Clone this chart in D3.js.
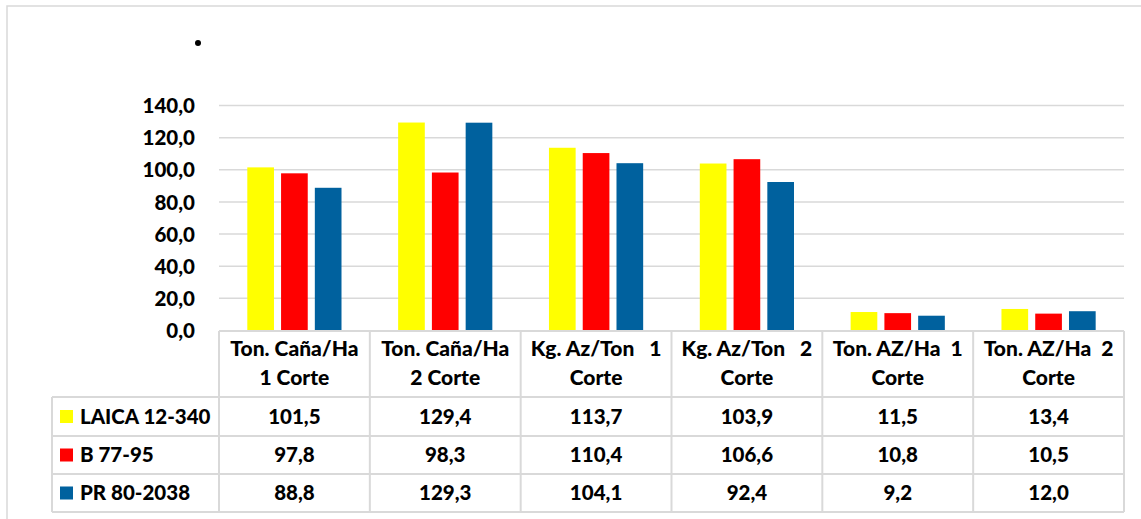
<!DOCTYPE html>
<html><head><meta charset="utf-8">
<script src="https://cdn.jsdelivr.net/npm/d3@7"></script>
<style>
html,body{margin:0;padding:0;background:#fff;}
text{font-family:Lato,"Open Sans",sans-serif;font-weight:900;fill:#000;}
</style></head>
<body>
<svg id="c" width="1141" height="519"></svg>
<script>
const categories = [["Ton. Caña/Ha","1 Corte"],["Ton. Caña/Ha","2 Corte"],["Kg. Az/Ton   1","Corte"],["Kg. Az/Ton   2","Corte"],["Ton. AZ/Ha  1","Corte"],["Ton. AZ/Ha  2","Corte"]];
const seriesNames = ["LAICA 12-340","B 77-95","PR 80-2038"];
const seriesColors = ["#ffff00","#ff0000","#00619e"];
const laica = [101.5,129.4,113.7,103.9,11.5,13.4];
const b7795 = [97.8,98.3,110.4,106.6,10.8,10.5];
const pr80 = [88.8,129.3,104.1,92.4,9.2,12.0];
const yTicks = [0,20,40,60,80,100,120,140];

const values = [laica,b7795,pr80];
const fmt = v => v.toFixed(1).replace(".", ",");
const svg = d3.select("#c");
const grid = "#d9d9d9";

svg.append("rect").attr("x",7).attr("y",6).attr("width",1150).attr("height",540)
  .attr("fill","none").attr("stroke",grid).attr("stroke-width",1.5);

svg.append("circle").attr("cx",198).attr("cy",43).attr("r",3).attr("fill","#000");

const y = d3.scaleLinear().domain([0,140]).range([330.5,105.5]);
const idx = d3.range(categories.length);
const x = d3.scaleBand().domain(idx).range([219,1124]).padding(0);
const xs = d3.scaleBand().domain(d3.range(3)).range([28.3,122.5]).paddingInner(0.21);

svg.append("g").selectAll("line").data(yTicks.filter(t=>t>0)).join("line")
  .attr("x1",219).attr("x2",1124).attr("y1",d=>y(d)).attr("y2",d=>y(d))
  .attr("stroke",grid).attr("stroke-width",1.5);

const yAxis = d3.axisLeft(y).tickValues(yTicks).tickFormat(fmt).tickSize(0).tickPadding(0);
const ga = svg.append("g").attr("transform","translate(195,0)").call(yAxis);
ga.select(".domain").remove();
ga.selectAll("text").attr("font-size",20.5).attr("font-family","Lato").attr("font-weight","900").attr("fill","#000").attr("dy","0.35em");

values.forEach((vals,s)=>{
  svg.append("g").selectAll("rect").data(vals).join("rect")
    .attr("x",(d,i)=>x(i)+xs(s)).attr("width",xs.bandwidth())
    .attr("y",d=>y(d)).attr("height",d=>y(0)-y(d))
    .attr("fill",seriesColors[s]);
});

const rowsY = [331,397,436,474,512];
const tg = svg.append("g");
const L = (x1,y1,x2,y2)=>tg.append("line").attr("x1",x1).attr("y1",y1).attr("x2",x2).attr("y2",y2).attr("stroke",grid).attr("stroke-width",2);
L(219,rowsY[0],1124,rowsY[0]);
for(let r=1;r<rowsY.length;r++) L(52,rowsY[r],1124,rowsY[r]);
L(52,rowsY[1],52,rowsY[4]);
idx.forEach(i=>L(x(i),rowsY[0],x(i),rowsY[4]));
L(1124,rowsY[0],1124,rowsY[4]);

categories.forEach((c,i)=>{
  const cx = x(i)+x.bandwidth()/2;
  [349,378].forEach((yy,k)=>{
    tg.append("text").attr("x",cx).attr("y",yy).attr("dy","0.35em").attr("text-anchor","middle")
      .attr("font-size",21).style("white-space","pre").text(c[k]);
  });
});

seriesNames.forEach((name,s)=>{
  const cy = (rowsY[s+1]+rowsY[s+2])/2;
  tg.append("rect").attr("x",60).attr("y",cy-6.5).attr("width",13).attr("height",13).attr("fill",seriesColors[s]);
  tg.append("text").attr("x",80).attr("y",cy).attr("dy","0.35em").attr("font-size",20.5).text(name);
  values[s].forEach((v,i)=>{
    tg.append("text").attr("x",x(i)+x.bandwidth()/2).attr("y",cy).attr("dy","0.35em")
      .attr("text-anchor","middle").attr("font-size",20.5).text(fmt(v));
  });
});
</script>
</body></html>
